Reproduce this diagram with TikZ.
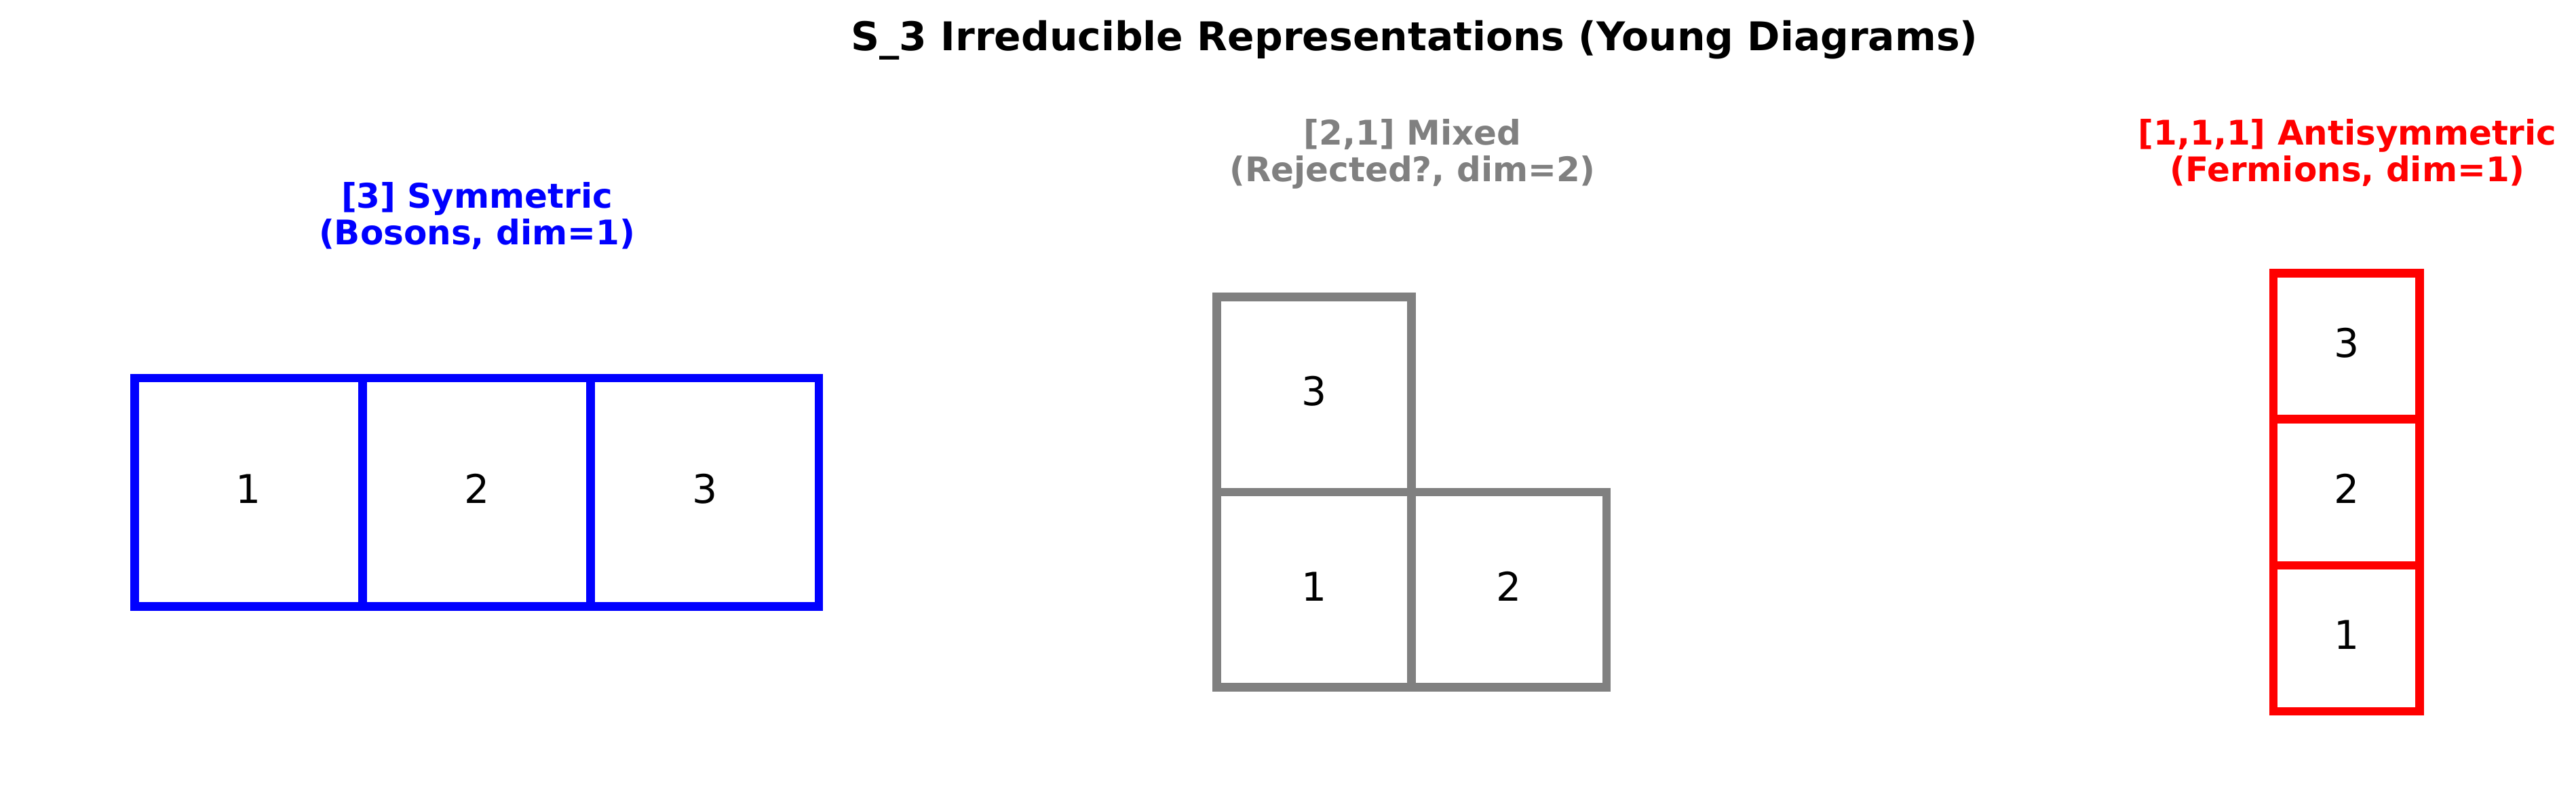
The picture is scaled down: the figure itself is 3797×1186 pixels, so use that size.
\documentclass[tikz,border=0pt]{standalone}
\usepackage{fontspec}
\setmainfont{DejaVu Sans}
\usetikzlibrary{positioning}
\definecolor{symblue}{RGB}{0,0,255}
\definecolor{mixgray}{RGB}{128,128,128}
\definecolor{antired}{RGB}{255,0,0}
\tikzset{
  young box/.style={rectangle,draw,line width=3pt,inner sep=0pt,outer sep=0pt,
    text height=10.2pt,text depth=2.4pt,font=\fontsize{14}{16}\selectfont},
  sym box/.style={young box,draw=symblue,minimum size=80.69pt},
  mix box/.style={young box,draw=mixgray,minimum size=68.98pt},
  anti box/.style={young box,draw=antired,minimum size=51.65pt},
  head/.style={font=\bfseries\fontsize{12}{13}\selectfont,align=center,anchor=base}
}
\begin{document}
\begin{tikzpicture}[x=0.24pt,y=-0.24pt]
\useasboundingbox (0,0) rectangle (3797,1186);
\node [font=\bfseries\fontsize{14}{17}\selectfont,anchor=base](title) at (2085,75) {S\_3 Irreducible Representations (Young Diagrams)};
% [3] symmetric
\node [head,text=symblue](symhead) at (703,361) {[3] Symmetric\\(Bosons, dim=1)};
\node [sym box](b1) at (366.4,725.3) {1};
\node [sym box,right=0pt of b1](b2) {2};
\node [sym box,right=0pt of b2](b3) {3};
% [2,1] mixed
\node [head,text=mixgray](mixhead) at (2082,268) {[2,1] Mixed\\(Rejected?, dim=2)};
\node [mix box](g1) at (1937,868.8) {1};
\node [mix box,right=0pt of g1](g2) {2};
\node [mix box,above=0pt of g1](g3) {3};
% [1,1,1] antisymmetric
\node [head,text=antired](antihead) at (3460,268) {[1,1,1] Antisymmetric\\(Fermions, dim=1)};
\node [anti box](r2) at (3458.8,725.3) {2};
\node [anti box,below=0pt of r2](r1) {1};
\node [anti box,above=0pt of r2](r3) {3};
\end{tikzpicture}
\end{document}
